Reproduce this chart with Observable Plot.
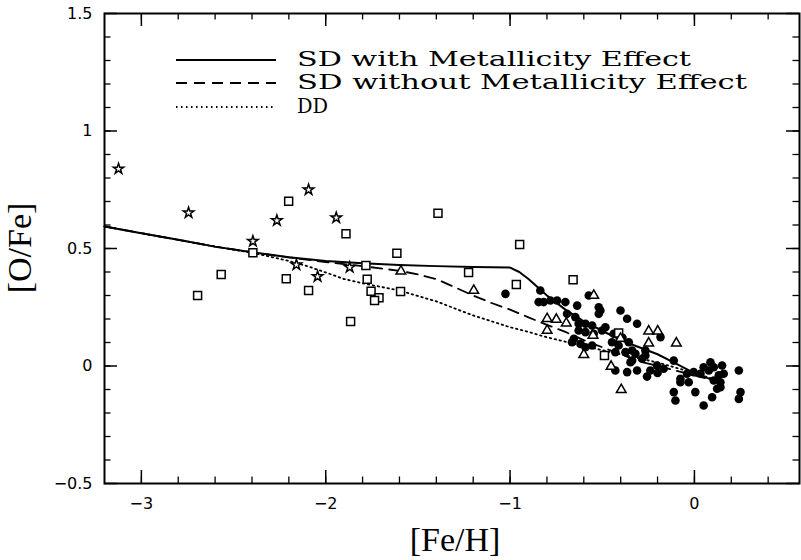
<!DOCTYPE html>
<html><head><meta charset="utf-8">
<script src="https://cdn.jsdelivr.net/npm/d3@7"></script>
<script src="https://cdn.jsdelivr.net/npm/@observablehq/plot@0.6"></script>
<style>body{margin:0;background:#fff}</style>
</head><body><div id="chart"></div>
<script>
// ---- axis ticks ----
const xMajor = [-3, -2, -1, 0];
const xMinor = [-3.0,-2.8,-2.6,-2.4,-2.2,-2.0,-1.8,-1.6,-1.4,-1.2,-1.0,-0.8,-0.6,-0.4,-0.2,0.0,0.2,0.4];
const yMajor = [-0.5, 0, 0.5, 1, 1.5];
const yMinor = [-0.4,-0.3,-0.2,-0.1,0,0.1,0.2,0.3,0.4,0.5,0.6,0.7,0.8,0.9,1.0,1.1,1.2,1.3,1.4];

// ---- model curves ----
const sdMetX = [-3.2,-3.0,-2.8,-2.6,-2.4,-2.2,-2.0,-1.8,-1.6,-1.4,-1.2,-1.0,-0.95,-0.9,-0.85,-0.8,-0.7,-0.6,-0.5,-0.4,-0.3,-0.2,-0.1,0.0,0.1,0.15];
const sdMetY = [0.594,0.565,0.537,0.508,0.484,0.463,0.447,0.437,0.430,0.425,0.421,0.419,0.40,0.37,0.335,0.30,0.24,0.19,0.15,0.11,0.08,0.05,0.01,-0.03,-0.06,-0.07];
const sdNoX = [-3.2,-3.0,-2.8,-2.6,-2.4,-2.2,-2.0,-1.8,-1.6,-1.5,-1.4,-1.3,-1.2,-1.1,-1.0,-0.9,-0.8,-0.7,-0.6,-0.5,-0.4,-0.3,-0.2,-0.1,0.0,0.1,0.15];
const sdNoY = [0.594,0.565,0.537,0.508,0.484,0.462,0.442,0.425,0.405,0.39,0.37,0.335,0.30,0.268,0.24,0.207,0.175,0.145,0.11,0.08,0.05,0.02,0.0,-0.02,-0.04,-0.06,-0.065];
const ddX = [-3.2,-3.0,-2.8,-2.6,-2.4,-2.3,-2.2,-2.1,-2.0,-1.9,-1.8,-1.6,-1.4,-1.2,-1.0,-0.9,-0.8,-0.6,-0.4,-0.2,0.0,0.1,0.15];
const ddY = [0.594,0.565,0.537,0.508,0.482,0.465,0.447,0.425,0.398,0.37,0.352,0.321,0.275,0.215,0.165,0.145,0.122,0.085,0.05,0.015,-0.03,-0.055,-0.065];

// ---- observations ----
const starX = [-3.124,-2.744,-2.395,-2.265,-2.093,-2.159,-2.044,-1.943,-1.870];
const starY = [0.839,0.652,0.531,0.619,0.750,0.431,0.381,0.631,0.420];

const squareX = [-2.201,-2.395,-2.567,-2.695,-2.214,-2.093,-1.890,-1.391,-1.614,-1.782,-1.775,-1.754,-1.711,-1.735,-1.594,-1.865,-1.225,-0.948,-0.966,-0.658,-0.411,-0.488];
const squareY = [0.701,0.482,0.389,0.300,0.371,0.321,0.563,0.650,0.480,0.428,0.369,0.318,0.290,0.279,0.317,0.189,0.398,0.517,0.347,0.367,0.140,0.045];

const triX = [-1.592,-1.197,-0.799,-0.799,-0.546,-0.749,-0.695,-0.550,-0.600,-0.248,-0.199,-0.248,-0.098,-0.401,-0.452,-0.397];
const triY = [0.403,0.321,0.201,0.151,0.300,0.198,0.182,0.130,0.048,0.148,0.148,0.097,0.097,0.117,-0.002,-0.101];

const circX = [-1.025,-0.836,-0.845,-0.818,-0.781,-0.745,-0.700,-0.636,-0.573,-0.519,-0.519,-0.691,-0.646,-0.628,-0.591,-0.555,-0.628,-0.591,-0.546,-0.654,-0.664,-0.618,-0.591,-0.555,-0.501,-0.438,-0.447,-0.411,-0.401,-0.365,-0.311,-0.184,-0.112,-0.39,-0.356,-0.429,-0.374,-0.320,-0.266,-0.338,-0.483,-0.429,-0.365,-0.311,-0.347,-0.284,-0.203,-0.239,-0.167,-0.338,-0.266,-0.112,-0.103,-0.076,-0.040,-0.004,0.033,-0.076,-0.031,0.005,0.087,0.150,0.105,0.132,0.105,0.141,0.123,0.096,0.050,0.241,0.250,0.241,0.050,0.078,0.159,0.141,-0.257,-0.20,-0.51];
const circY = [0.307,0.321,0.272,0.272,0.279,0.279,0.272,0.257,0.300,0.250,0.222,0.222,0.208,0.180,0.180,0.172,0.151,0.144,0.137,0.116,0.101,0.094,0.080,0.087,0.151,0.137,0.101,0.087,0.236,0.201,0.180,0.123,0.023,0.12,0.101,0.059,0.059,0.052,0.045,0.023,0.165,-0.019,-0.026,-0.019,0.016,0.031,0.002,-0.019,-0.012,0.066,0.066,-0.111,-0.147,-0.054,-0.033,-0.026,-0.033,-0.069,-0.069,-0.111,0.016,0.002,-0.005,-0.040,-0.062,-0.069,-0.097,-0.133,-0.168,-0.019,-0.111,-0.140,-0.005,-0.019,-0.033,-0.090,-0.045,-0.03,0.236];

const legendLabels = ["SD with Metallicity Effect", "SD without Metallicity Effect", "DD"];
const legendDash = [null, "11,7", "1.5,3.5"];

// ---- layout ----
const W = 801, H = 560, mL = 104, mR = 2, mT = 13, mB = 77;
const plotW = W - mL - mR, plotH = H - mT - mB;
const majLen = 13, minLen = 6.5;
const idx = a => a.map((_, i) => i);
const fmt = d => d3.format("")(d);

const chart = Plot.plot({
  width: W, height: H,
  marginLeft: mL, marginRight: mR, marginTop: mT, marginBottom: mB,
  style: {background: "#fff", color: "#000", fontFamily: "DejaVu Sans", fontSize: "16px"},
  x: {domain: [-3.2, 0.57], ticks: xMajor, tickSize: 0, tickPadding: 14, label: null, tickFormat: fmt},
  y: {domain: [-0.5, 1.5], ticks: yMajor, tickSize: 0, tickPadding: 12, label: null, tickFormat: fmt},
  marks: [
    // inward ticks on all four sides
    Plot.ruleX(xMinor, {x: d => d, insetTop: plotH - minLen, stroke: "#000", strokeWidth: 1.3}),
    Plot.ruleX(xMinor, {x: d => d, insetBottom: plotH - minLen, stroke: "#000", strokeWidth: 1.3}),
    Plot.ruleX(xMajor, {x: d => d, insetTop: plotH - majLen, stroke: "#000", strokeWidth: 1.5}),
    Plot.ruleX(xMajor, {x: d => d, insetBottom: plotH - majLen, stroke: "#000", strokeWidth: 1.5}),
    Plot.ruleY(yMinor, {y: d => d, insetRight: plotW - minLen, stroke: "#000", strokeWidth: 1.3}),
    Plot.ruleY(yMinor, {y: d => d, insetLeft: plotW - minLen, stroke: "#000", strokeWidth: 1.3}),
    Plot.ruleY(yMajor, {y: d => d, insetRight: plotW - majLen, stroke: "#000", strokeWidth: 1.5}),
    Plot.ruleY(yMajor, {y: d => d, insetLeft: plotW - majLen, stroke: "#000", strokeWidth: 1.5}),
    Plot.frame({stroke: "#000", strokeWidth: 2}),
    // model curves
    Plot.line(idx(sdMetX), {x: sdMetX, y: sdMetY, stroke: "#000", strokeWidth: 2}),
    Plot.line(idx(sdNoX), {x: sdNoX, y: sdNoY, stroke: "#000", strokeWidth: 1.8, strokeDasharray: "11,7"}),
    Plot.line(idx(ddX), {x: ddX, y: ddY, stroke: "#000", strokeWidth: 1.8, strokeDasharray: "1.5,3.5"}),
    // data
    Plot.dot(idx(circX), {x: circX, y: circY, r: 4.3, fill: "#000", stroke: "none"}),
    Plot.dot(idx(squareX), {x: squareX, y: squareY, symbol: "square", r: 4.5, fill: "#fff", stroke: "#000", strokeWidth: 1.5}),
    Plot.dot(idx(triX), {x: triX, y: triY, symbol: "triangle", r: 3.6, fill: "#fff", stroke: "#000", strokeWidth: 1.5}),
    Plot.dot(idx(starX), {x: starX, y: starY, symbol: "star", r: 3.3, fill: "#fff", stroke: "#000", strokeWidth: 1.5})
  ]
});

const svg = d3.select(chart);
// axis titles
svg.append("text").attr("x", 455).attr("y", 551).attr("text-anchor", "middle")
  .attr("font-family", "Liberation Serif").attr("font-size", 34).attr("fill", "#000").text("[Fe/H]");
svg.append("text").attr("transform", "translate(31,248) rotate(-90)").attr("text-anchor", "middle")
  .attr("font-family", "Liberation Serif").attr("font-size", 34).attr("fill", "#000").text("[O/Fe]");
// legend
const legY = [60, 83, 107];
const legW = [394, 450, 31];
legendLabels.forEach((lab, i) => {
  const l = svg.append("line").attr("x1", 176).attr("x2", 276).attr("y1", legY[i]).attr("y2", legY[i])
    .attr("stroke", "#000").attr("stroke-width", i === 0 ? 2 : 1.8);
  if (legendDash[i]) l.attr("stroke-dasharray", legendDash[i]);
  svg.append("text").attr("x", 297).attr("y", legY[i] + 6).attr("text-anchor", "start")
    .attr("font-family", "DejaVu Serif Condensed").attr("font-size", 19.5)
    .attr("textLength", legW[i]).attr("lengthAdjust", "spacingAndGlyphs")
    .attr("fill", "#000").text(lab);
});

document.getElementById("chart").appendChild(chart);
</script>
</body></html>
